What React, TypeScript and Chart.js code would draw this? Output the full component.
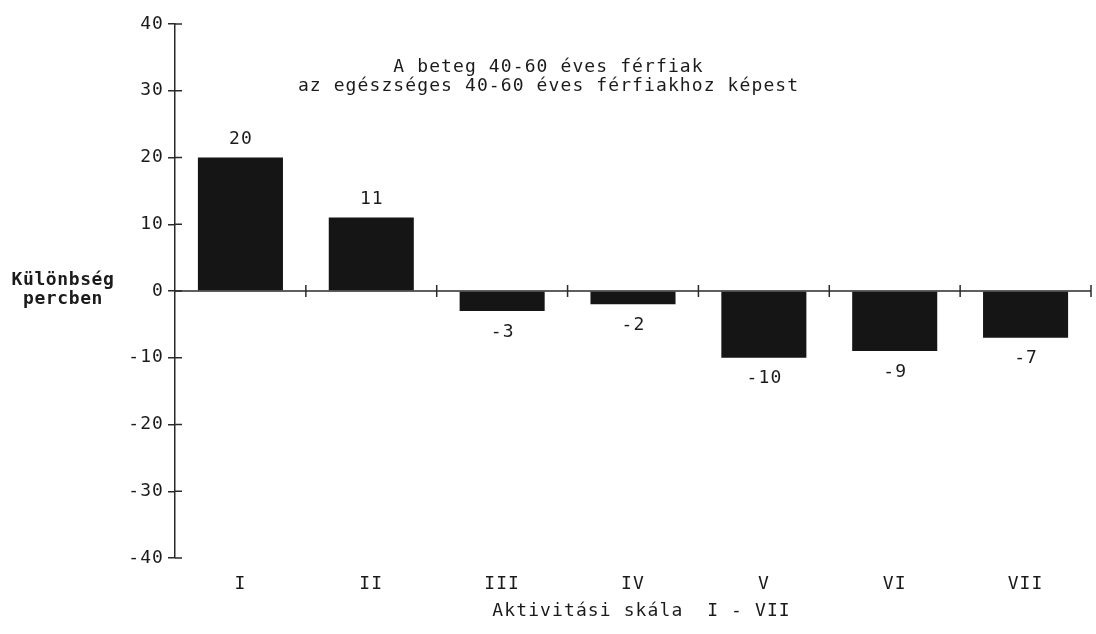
import React, { useEffect, useRef } from "react";
import { Chart, registerables } from "chart.js";

Chart.register(...registerables);

const categories = ["I", "II", "III", "IV", "V", "VI", "VII"];
const values = [20, 11, -3, -2, -10, -9, -7];
const yMin = -40;
const yMax = 40;
const yStep = 10;
const titleLines = [
  "A beteg 40-60 éves férfiak",
  "az egészséges 40-60 éves férfiakhoz képest",
];
const yTitleLines = ["Különbség", "percben"];
const xTitle = "Aktivitási skála  I - VII";

const FONT = "'DejaVu Sans Mono', monospace";
const FS = 18;
const LS = 1.1;
const INK = "#1b1b1b";

const overlay = {
  id: "overlay",
  beforeDraw(chart: any) {
    const ctx = chart.ctx;
    ctx.save();
    ctx.fillStyle = "#ffffff";
    ctx.fillRect(0, 0, chart.width, chart.height);
    ctx.restore();
    (ctx as any).letterSpacing = LS + "px";
  },
  beforeDatasetsDraw(chart: any) {
    const ctx = chart.ctx;
    const x = chart.scales.x;
    const y = chart.scales.y;
    const y0 = y.getPixelForValue(0);
    const half = (x.getPixelForValue(1) - x.getPixelForValue(0)) / 2;
    ctx.save();
    ctx.strokeStyle = "#2a2a2a";
    ctx.lineWidth = 1.5;
    ctx.beginPath();
    ctx.moveTo(chart.chartArea.left, y0);
    ctx.lineTo(chart.chartArea.right, y0);
    ctx.stroke();
    for (let i = 0; i < categories.length; i++) {
      const bx = x.getPixelForValue(i) + half;
      ctx.beginPath();
      ctx.moveTo(bx, y0 - 6);
      ctx.lineTo(bx, y0 + 6);
      ctx.stroke();
    }
    for (const t of y.ticks) {
      const py = y.getPixelForValue(t.value);
      ctx.beginPath();
      ctx.moveTo(chart.chartArea.left, py);
      ctx.lineTo(chart.chartArea.left + 7, py);
      ctx.stroke();
    }
    ctx.restore();
  },
  afterDatasetsDraw(chart: any) {
    const ctx = chart.ctx;
    const meta = chart.getDatasetMeta(0);
    ctx.save();
    (ctx as any).letterSpacing = LS + "px";
    ctx.fillStyle = INK;
    ctx.font = FS + "px " + FONT;
    ctx.textAlign = "center";
    ctx.textBaseline = "middle";
    meta.data.forEach((el: any, i: number) => {
      const v = values[i];
      const ty = v >= 0 ? el.y - 18 : el.y + 21;
      ctx.fillText(String(v), el.x + LS / 2, ty);
    });
    ctx.restore();
  },
  afterDraw(chart: any) {
    const ctx = chart.ctx;
    ctx.save();
    (ctx as any).letterSpacing = LS + "px";
    ctx.fillStyle = INK;
    ctx.textAlign = "center";
    ctx.textBaseline = "middle";
    ctx.font = FS + "px " + FONT;
    ctx.fillText(titleLines[0], 548 + LS / 2, 67);
    ctx.fillText(titleLines[1], 548 + LS / 2, 86);
    ctx.fillText(xTitle, 641 + LS / 2, 611);
    ctx.font = "bold " + FS + "px " + FONT;
    (ctx as any).letterSpacing = "0.6px";
    ctx.fillText(yTitleLines[0], 63, 280);
    ctx.fillText(yTitleLines[1], 63, 299);
    ctx.restore();
    (ctx as any).letterSpacing = "0px";
  },
};

export default function App() {
  const ref = useRef<HTMLCanvasElement | null>(null);
  useEffect(() => {
    if (!ref.current) return;
    const chart = new Chart(ref.current, {
      type: "bar",
      data: {
        labels: categories,
        datasets: [
          {
            data: values,
            backgroundColor: "#151515",
            borderWidth: 0,
            barPercentage: 0.65,
            categoryPercentage: 1,
          },
        ],
      },
      options: {
        animation: false,
        responsive: false,
        devicePixelRatio: 1,
        layout: { padding: { top: 24, right: 5, bottom: 0, left: 0 } },
        plugins: {
          legend: { display: false },
          tooltip: { enabled: false },
          title: { display: false },
        },
        scales: {
          x: {
            grid: { display: false, drawTicks: false },
            border: { display: false },
            ticks: {
              color: INK,
              font: { family: FONT, size: FS },
              padding: 16,
              maxRotation: 0,
            },
            afterFit: (s: any) => {
              s.height = 76;
            },
          },
          y: {
            min: yMin,
            max: yMax,
            border: { display: true, color: "#2a2a2a", width: 1.5 },
            grid: {
              drawOnChartArea: false,
              drawTicks: true,
              tickLength: 7,
              color: "#2a2a2a",
              lineWidth: 1.5,
            },
            ticks: {
              stepSize: yStep,
              color: INK,
              font: { family: FONT, size: FS },
              padding: 4,
            },
            afterFit: (s: any) => {
              s.width = 175;
            },
          },
        },
      },
      plugins: [overlay],
    });
    return () => chart.destroy();
  }, []);
  return (
    <div style={{ position: "fixed", left: 0, top: 0, width: 1096, height: 634, background: "#fff" }}>
      <canvas ref={ref} width={1096} height={634} style={{ width: 1096, height: 634, display: "block" }} />
    </div>
  );
}
